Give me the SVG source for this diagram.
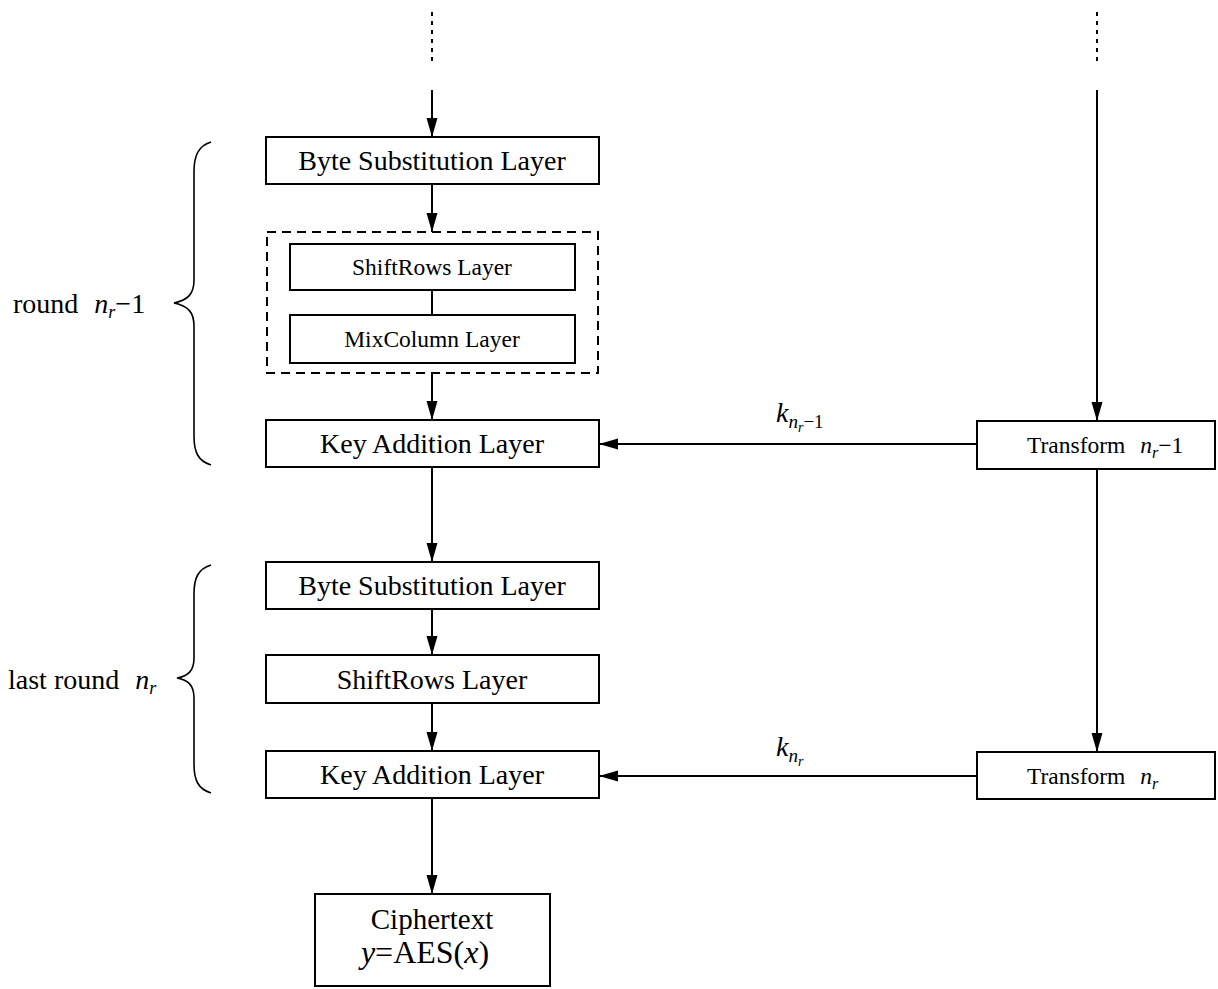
<svg xmlns="http://www.w3.org/2000/svg" width="1218" height="989" viewBox="0 0 1218 989">
  <style>
    .box { fill: #fff; stroke: #000; stroke-width: 2; }
    .line { fill: none; stroke: #000; stroke-width: 2; }
    .dot { fill: none; stroke: #000; stroke-width: 2; stroke-dasharray: 4 5; }
    .dash { fill: none; stroke: #000; stroke-width: 2; stroke-dasharray: 9 6; }
    .brace { fill: none; stroke: #000; stroke-width: 1.6; }
    text { font-family: "Liberation Serif", "Times New Roman", serif; fill: #000; }
    .big { font-size: 28px; }
    .small { font-size: 23.5px; }
    .it { font-style: italic; }
  </style>
  <defs>
    <marker id="arrow" markerUnits="userSpaceOnUse" markerWidth="19" markerHeight="12" refX="19" refY="6" viewBox="0 0 19 12" orient="auto">
      <path d="M0,0.5 L19,6 L0,11.5 Z" fill="#000"/>
    </marker>
  </defs>

  <!-- connectors -->
  <g id="connectors">
    <line class="dot" x1="432" y1="12" x2="432" y2="64"/>
    <line class="dot" x1="1097" y1="12" x2="1097" y2="64"/>
    <line class="line" x1="432" y1="90" x2="432" y2="137" marker-end="url(#arrow)"/>
    <line class="line" x1="432" y1="184" x2="432" y2="232" marker-end="url(#arrow)"/>
    <line class="line" x1="432" y1="290" x2="432" y2="315"/>
    <line class="line" x1="432" y1="373" x2="432" y2="420" marker-end="url(#arrow)"/>
    <line class="line" x1="432" y1="467" x2="432" y2="562" marker-end="url(#arrow)"/>
    <line class="line" x1="432" y1="609" x2="432" y2="655" marker-end="url(#arrow)"/>
    <line class="line" x1="432" y1="703" x2="432" y2="751" marker-end="url(#arrow)"/>
    <line class="line" x1="432" y1="798" x2="432" y2="894" marker-end="url(#arrow)"/>
    <line class="line" x1="1097" y1="90" x2="1097" y2="421" marker-end="url(#arrow)"/>
    <line class="line" x1="1097" y1="469" x2="1097" y2="752" marker-end="url(#arrow)"/>
    <line class="line" x1="977" y1="444" x2="599" y2="444" marker-end="url(#arrow)"/>
    <line class="line" x1="977" y1="776" x2="599" y2="776" marker-end="url(#arrow)"/>
  </g>

  <!-- key labels -->
  <text x="776" y="422" font-size="28" class="it">k<tspan font-size="19" dy="6">n</tspan><tspan font-size="14" dy="4">r</tspan><tspan font-size="19" font-style="normal" dy="-4">−1</tspan></text>
  <text x="776" y="756" font-size="28" class="it">k<tspan font-size="19" dy="6">n</tspan><tspan font-size="14" dy="4">r</tspan></text>

  <!-- round braces -->
  <g id="brace-round">
    <path class="brace" d="M211,142 C198,146 194,156 194,172 L194,280 C194,294 188,300 174,303 C188,306 194,312 194,326 L194,436 C194,452 198,461 211,465"/>
    <text x="13" y="313" class="big">round <tspan class="it" dx="9">n</tspan><tspan class="it" font-size="18" dy="5">r</tspan><tspan dy="-5">−1</tspan></text>
  </g>
  <g id="brace-last">
    <path class="brace" d="M211,565 C198,569 194,578 194,594 L194,658 C194,671 188,676 177,678 C188,680 194,685 194,698 L194,764 C194,780 198,789 211,793"/>
    <text x="8" y="689" class="big">last round <tspan class="it" dx="9">n</tspan><tspan class="it" font-size="18" dy="5">r</tspan></text>
  </g>

  <!-- round n_r - 1 -->
  <g id="bytesub1">
    <rect class="box" x="266" y="137" width="333" height="47"/>
    <text x="432" y="170" class="big" text-anchor="middle">Byte Substitution Layer</text>
  </g>
  <g id="diffusion">
    <rect class="dash" x="267" y="232" width="331" height="141"/>
  </g>
  <g id="shiftrows1">
    <rect class="box" x="290" y="244" width="285" height="46"/>
    <text x="432" y="275" class="small" text-anchor="middle">ShiftRows Layer</text>
  </g>
  <g id="mixcolumn">
    <rect class="box" x="290" y="315" width="285" height="48"/>
    <text x="432" y="347" class="small" text-anchor="middle">MixColumn Layer</text>
  </g>
  <g id="keyadd1">
    <rect class="box" x="266" y="420" width="333" height="47"/>
    <text x="432" y="453" class="big" text-anchor="middle">Key Addition Layer</text>
  </g>

  <!-- last round -->
  <g id="bytesub2">
    <rect class="box" x="266" y="562" width="333" height="47"/>
    <text x="432" y="595" class="big" text-anchor="middle">Byte Substitution Layer</text>
  </g>
  <g id="shiftrows2">
    <rect class="box" x="266" y="655" width="333" height="48"/>
    <text x="432" y="689" class="big" text-anchor="middle">ShiftRows Layer</text>
  </g>
  <g id="keyadd2">
    <rect class="box" x="266" y="751" width="333" height="47"/>
    <text x="432" y="784" class="big" text-anchor="middle">Key Addition Layer</text>
  </g>

  <!-- output -->
  <g id="ciphertext">
    <rect class="box" x="315" y="894" width="235" height="92"/>
    <text x="432" y="929" font-size="29" text-anchor="middle">Ciphertext</text>
    <text x="425" y="963" font-size="32" text-anchor="middle"><tspan class="it">y</tspan>=AES(<tspan class="it">x</tspan>)</text>
  </g>

  <!-- key schedule -->
  <g id="transform1">
    <rect class="box" x="977" y="421" width="238" height="48"/>
    <text x="1027" y="453" class="small">Transform <tspan class="it" dx="9">n</tspan><tspan class="it" font-size="16" dy="5">r</tspan><tspan dy="-5">−1</tspan></text>
  </g>
  <g id="transform2">
    <rect class="box" x="977" y="752" width="238" height="47"/>
    <text x="1027" y="784" class="small">Transform <tspan class="it" dx="9">n</tspan><tspan class="it" font-size="16" dy="5">r</tspan></text>
  </g>
</svg>
